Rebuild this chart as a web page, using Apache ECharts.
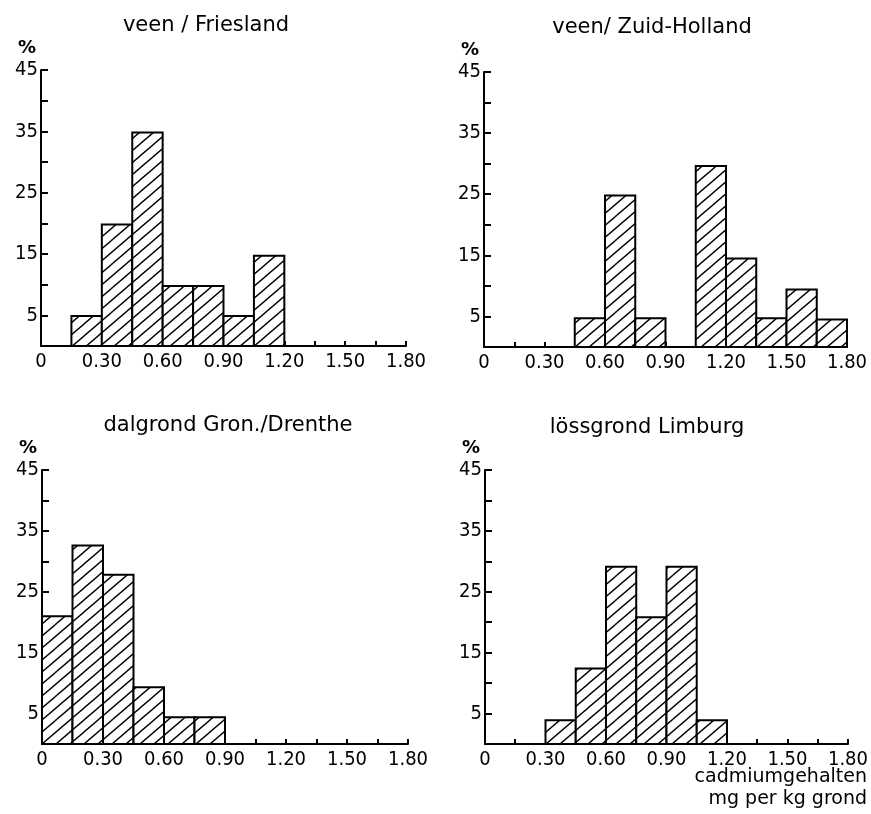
<!DOCTYPE html>
<html>
<head>
<meta charset="utf-8">
<script src="https://cdn.jsdelivr.net/npm/echarts@6/dist/echarts.min.js"></script>
<style>
html,body{margin:0;padding:0;background:#fff;}
#chart{width:871px;height:814px;}
</style>
</head>
<body>
<div id="chart"></div>
<script>
// Bin edges (mg Cd per kg grond)
const binEdges = [0, 0.15, 0.30, 0.45, 0.60, 0.75, 0.90, 1.05, 1.20, 1.35, 1.50, 1.65, 1.80];
// Percentages per bin
const friesland   = [0, 4.9, 19.8, 34.8, 9.8, 9.8, 4.9, 14.7, 0, 0, 0, 0];
const zuidHolland = [0, 0, 0, 4.7, 24.8, 4.7, 0, 29.6, 14.5, 4.7, 9.4, 4.5];
const drenthe     = [21.0, 32.6, 27.8, 9.3, 4.4, 4.4, 0, 0, 0, 0, 0, 0];
const limburg     = [0, 0, 3.9, 12.4, 29.1, 20.8, 29.1, 3.9, 0, 0, 0, 0];
const titles = ['veen / Friesland', 'veen/ Zuid-Holland', 'dalgrond Gron./Drenthe', 'lössgrond Limburg'];
const xAxisName = ['cadmiumgehalten', 'mg per kg grond'];

const panels = [friesland, zuidHolland, drenthe, limburg];

// hatch pattern (lines rising to the right, ~40 degrees)
const pat = document.createElement('canvas');
const W = 14, H = 12;
pat.width = W; pat.height = H;
const pc = pat.getContext('2d');
pc.fillStyle = '#fff'; pc.fillRect(0, 0, W, H);
pc.strokeStyle = '#000'; pc.lineWidth = 1.4;
pc.beginPath();
pc.moveTo(0, H); pc.lineTo(W, 0);
pc.moveTo(-W, H); pc.lineTo(W, -H);
pc.moveTo(0, 2 * H); pc.lineTo(2 * W, 0);
pc.stroke();

const labelFont = "'DejaVu Sans Condensed', 'Liberation Sans Narrow', 'DejaVu Sans', sans-serif";
const titleFont = "'DejaVu Sans', sans-serif";

const grids = [
  {left: 41, top: 70, width: 365, height: 276},
  {left: 484, top: 72, width: 363, height: 275},
  {left: 42, top: 470, width: 366, height: 274},
  {left: 485, top: 470, width: 363, height: 274}
];
const titlePos = [[201, 10], [647, 12], [223, 410], [642, 412]];

const option = {
  backgroundColor: '#fff',
  animation: false,
  title: titles.map((t, i) => ({
    text: t, left: titlePos[i][0], top: titlePos[i][1], textAlign: 'center',
    textStyle: {fontFamily: titleFont, fontSize: 21, fontWeight: 'normal', color: '#000'}
  })),
  grid: grids,
  xAxis: grids.map((g, i) => ({
    type: 'value', gridIndex: i, min: 0, max: 1.8, interval: 0.15,
    axisLine: {show: true, onZero: false, lineStyle: {color: '#000', width: 2}},
    axisTick: {show: true, inside: true, length: 5, lineStyle: {color: '#000', width: 2}},
    splitLine: {show: false},
    axisLabel: {
      color: '#000', fontFamily: labelFont, fontSize: 20, margin: 6, showMinLabel: true, showMaxLabel: true,
      formatter: v => { const k = Math.round(v / 0.15); if (k === 0) return '0'; return k % 2 === 0 ? (k * 0.15).toFixed(2) : ''; }
    }
  })),
  yAxis: grids.map((g, i) => ({
    type: 'value', gridIndex: i, min: 0, max: 45, interval: 5,
    name: '%', nameLocation: 'end', nameGap: 13,
    nameTextStyle: {color: '#000', fontFamily: titleFont, fontSize: 18, fontWeight: 'bold', align: 'right', padding: [0, 5, 0, 0]},
    axisLine: {show: true, lineStyle: {color: '#000', width: 2}},
    axisTick: {show: true, inside: true, length: 7, lineStyle: {color: '#000', width: 2}},
    splitLine: {show: false},
    axisLabel: {
      color: '#000', fontFamily: labelFont, fontSize: 20, margin: 3,
      formatter: v => (v % 10 === 5 ? String(v) : '')
    }
  })),
  graphic: [
    {type: 'text', right: 4, top: 768, style: {text: xAxisName[0], font: "19px 'DejaVu Sans', sans-serif", fill: '#000', textAlign: 'right'}},
    {type: 'text', right: 4, top: 790, style: {text: xAxisName[1], font: "19px 'DejaVu Sans', sans-serif", fill: '#000', textAlign: 'right'}}
  ],
  series: panels.map((vals, i) => ({
    type: 'custom', xAxisIndex: i, yAxisIndex: i,
    data: vals.map((v, j) => [binEdges[j], binEdges[j + 1], v]),
    renderItem: (params, api) => {
      const v = api.value(2);
      if (!v) return null;
      const p0 = api.coord([api.value(0), 0]);
      const p1 = api.coord([api.value(1), v]);
      return {
        type: 'rect',
        shape: {x: p0[0], y: p1[1], width: p1[0] - p0[0], height: p0[1] - p1[1]},
        style: {fill: {image: pat, repeat: 'repeat'}, stroke: '#000', lineWidth: 2}
      };
    }
  }))
};

const chart = echarts.init(document.getElementById('chart'), null, {renderer: 'canvas'});
chart.setOption(option);
</script>
</body>
</html>
